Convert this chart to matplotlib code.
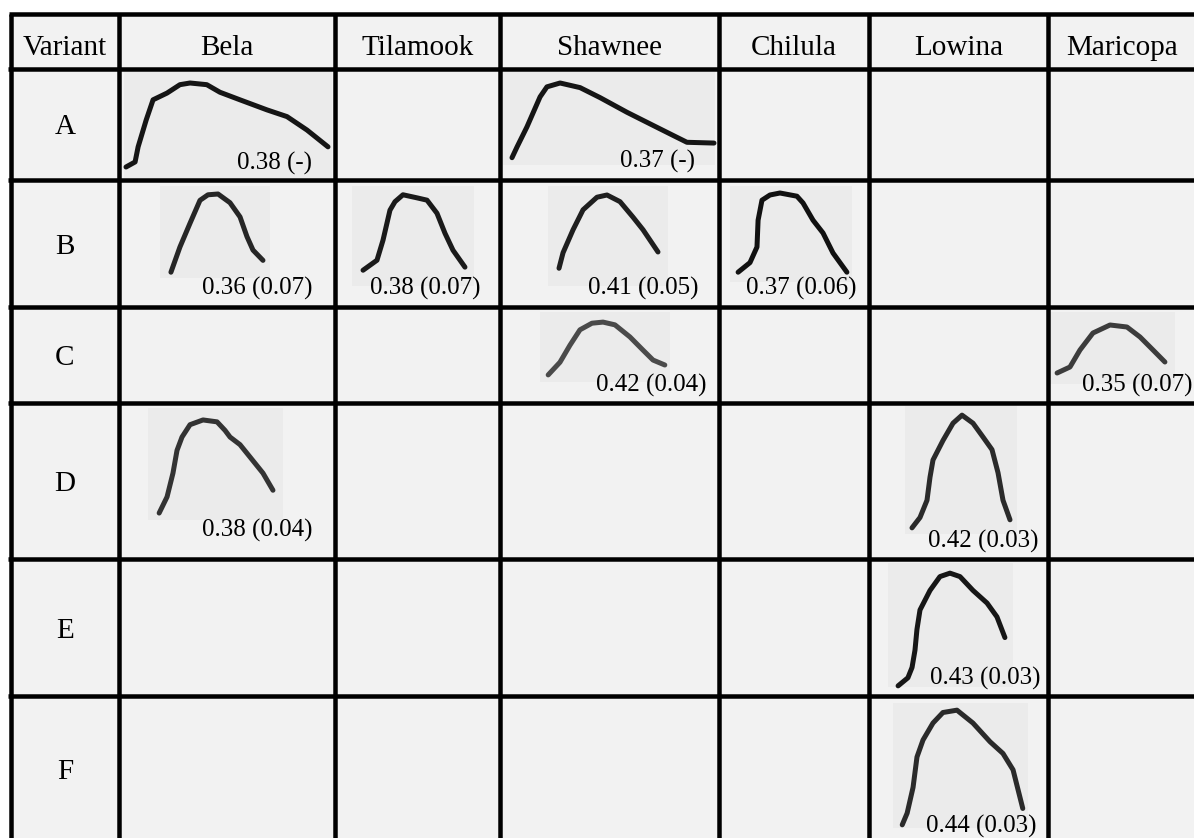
import matplotlib
matplotlib.use("Agg")
import matplotlib.pyplot as plt
from matplotlib.patches import Rectangle

plt.rcParams['font.family'] = ['Liberation Serif', 'DejaVu Serif']

# ---------------- data ----------------
variants = ['A', 'B', 'C', 'D', 'E', 'F']
cultivars = ['Bela', 'Tilamook', 'Shawnee', 'Chilula', 'Lowina', 'Maricopa']
corner_label = 'Variant'

# cells that hold a profile: (variant, cultivar)
cells = [('A', 'Bela'), ('A', 'Shawnee'),
         ('B', 'Bela'), ('B', 'Tilamook'), ('B', 'Shawnee'), ('B', 'Chilula'),
         ('C', 'Shawnee'), ('C', 'Maricopa'),
         ('D', 'Bela'), ('D', 'Lowina'),
         ('E', 'Lowina'),
         ('F', 'Lowina')]
means = [0.38, 0.37, 0.36, 0.38, 0.41, 0.37, 0.42, 0.35, 0.38, 0.42, 0.43, 0.44]
sds = [None, None, 0.07, 0.07, 0.05, 0.06, 0.04, 0.07, 0.04, 0.03, 0.03, 0.03]

# normalised profiles: position along the profile (u) and relative height (v)
prof_A_bela_u = [0.00, 0.045, 0.06, 0.10, 0.134, 0.203, 0.267, 0.317, 0.40, 0.465, 0.564, 0.698, 0.797, 0.896, 1.00]
prof_A_bela_v = [0.00, 0.06, 0.24, 0.56, 0.80, 0.88, 0.98, 1.00, 0.98, 0.89, 0.80, 0.68, 0.60, 0.44, 0.24]
prof_A_shawnee_u = [0.00, 0.025, 0.074, 0.139, 0.173, 0.238, 0.337, 0.436, 0.569, 0.698, 0.797, 0.866, 1.00]
prof_A_shawnee_v = [0.03, 0.17, 0.43, 0.82, 0.95, 1.00, 0.94, 0.81, 0.62, 0.45, 0.32, 0.23, 0.22]
prof_B_bela_u = [0.01, 0.106, 0.213, 0.319, 0.404, 0.511, 0.638, 0.745, 0.819, 0.883, 0.989]
prof_B_bela_v = [0.01, 0.33, 0.63, 0.92, 0.99, 1.00, 0.89, 0.71, 0.46, 0.29, 0.16]
prof_B_tilamook_u = [0.01, 0.144, 0.202, 0.269, 0.317, 0.394, 0.529, 0.625, 0.721, 0.798, 0.875, 0.99]
prof_B_tilamook_v = [0.01, 0.14, 0.40, 0.79, 0.90, 0.99, 0.95, 0.92, 0.75, 0.49, 0.27, 0.05]
prof_B_shawnee_u = [0.01, 0.05, 0.149, 0.248, 0.386, 0.485, 0.614, 0.743, 0.842, 0.99]
prof_B_shawnee_v = [0.01, 0.22, 0.53, 0.80, 0.97, 1.00, 0.91, 0.70, 0.53, 0.23]
prof_B_chilula_u = [0.01, 0.117, 0.18, 0.19, 0.225, 0.297, 0.387, 0.54, 0.595, 0.685, 0.775, 0.865, 0.99]
prof_B_chilula_v = [0.01, 0.13, 0.325, 0.66, 0.91, 0.975, 1.00, 0.96, 0.875, 0.66, 0.50, 0.25, 0.01]
prof_C_shawnee_u = [0.01, 0.109, 0.193, 0.277, 0.378, 0.471, 0.571, 0.697, 0.807, 0.891, 0.99]
prof_C_shawnee_v = [0.02, 0.25, 0.56, 0.84, 0.96, 0.98, 0.93, 0.71, 0.47, 0.29, 0.20]
prof_C_maricopa_u = [0.01, 0.127, 0.218, 0.336, 0.491, 0.645, 0.764, 0.882, 0.99]
prof_C_maricopa_v = [0.02, 0.14, 0.48, 0.82, 0.98, 0.94, 0.74, 0.48, 0.24]
prof_D_bela_u = [0.01, 0.078, 0.129, 0.164, 0.207, 0.276, 0.388, 0.509, 0.578, 0.621, 0.707, 0.793, 0.905, 0.991]
prof_D_bela_v = [0.01, 0.18, 0.43, 0.67, 0.81, 0.94, 0.99, 0.97, 0.88, 0.81, 0.73, 0.60, 0.43, 0.25]
prof_D_lowina_u = [0.01, 0.09, 0.16, 0.19, 0.22, 0.32, 0.42, 0.51, 0.62, 0.72, 0.81, 0.87, 0.92, 0.99]
prof_D_lowina_v = [0.01, 0.10, 0.25, 0.45, 0.60, 0.77, 0.92, 0.99, 0.92, 0.80, 0.69, 0.49, 0.25, 0.08]
prof_E_lowina_u = [0.01, 0.10, 0.138, 0.165, 0.183, 0.211, 0.303, 0.394, 0.486, 0.578, 0.697, 0.826, 0.917, 0.99]
prof_E_lowina_v = [0.01, 0.08, 0.17, 0.32, 0.50, 0.67, 0.84, 0.96, 0.99, 0.96, 0.84, 0.73, 0.61, 0.43]
prof_F_lowina_u = [0.01, 0.05, 0.098, 0.13, 0.179, 0.26, 0.341, 0.455, 0.585, 0.724, 0.829, 0.911, 0.99]
prof_F_lowina_v = [0.01, 0.11, 0.33, 0.59, 0.735, 0.88, 0.97, 0.99, 0.88, 0.72, 0.62, 0.48, 0.15]

profiles = [(prof_A_bela_u, prof_A_bela_v), (prof_A_shawnee_u, prof_A_shawnee_v),
            (prof_B_bela_u, prof_B_bela_v), (prof_B_tilamook_u, prof_B_tilamook_v),
            (prof_B_shawnee_u, prof_B_shawnee_v), (prof_B_chilula_u, prof_B_chilula_v),
            (prof_C_shawnee_u, prof_C_shawnee_v), (prof_C_maricopa_u, prof_C_maricopa_v),
            (prof_D_bela_u, prof_D_bela_v), (prof_D_lowina_u, prof_D_lowina_v),
            (prof_E_lowina_u, prof_E_lowina_v), (prof_F_lowina_u, prof_F_lowina_v)]

# ---------------- layout (pixels) ----------------
W, H = 1194, 838
col_edges = [11, 119, 335, 500, 719, 869, 1048, 1197]
row_edges = [14, 69, 180, 307, 403, 559, 696, 842]
# profile boxes: left, top, width, height
boxes = [(126, 83, 202, 84), (512, 83, 202, 77),
         (170, 194, 94, 79), (362, 194, 104, 77), (558, 195, 101, 74), (737, 193, 111, 80),
         (547, 321, 119, 55), (1056, 324, 110, 50),
         (158, 419, 116, 95), (911, 414, 100, 115),
         (897, 572, 109, 115), (901, 709, 123, 117)]
# background panels behind profiles: left, top, width, height
panels = [(124, 72, 208, 106), (503, 72, 212, 93),
          (160, 186, 110, 92), (352, 186, 122, 100), (548, 186, 120, 100), (730, 186, 122, 96),
          (540, 312, 130, 70), (1050, 312, 125, 72),
          (148, 408, 135, 112), (905, 406, 112, 128),
          (888, 563, 125, 124), (893, 703, 135, 125)]
# right edge and baseline of each value label
label_pos = [(312, 170), (695, 168),
             (313, 295), (480, 295), (698, 295), (857, 295),
             (707, 392), (1192, 392),
             (313, 537), (1038, 548),
             (1040, 685), (1037, 833)]
line_colors = ['#151515', '#151515', '#262626', '#1a1a1a', '#1f1f1f', '#111111',
               '#4a4a4a', '#3c3c3c', '#333333', '#2a2a2a', '#161616', '#2a2a2a']

cell_bg = '#f2f2f2'
panel_bg = '#ebebeb'
grid_lw = 4.5 * 72 / 100

fig = plt.figure(figsize=(W / 100, H / 100), dpi=100)
fig.patch.set_facecolor('white')
ax = fig.add_axes([0, 0, 1, 1])
ax.set_xlim(0, W)
ax.set_ylim(H, 0)
ax.axis('off')

# table background
ax.add_patch(Rectangle((col_edges[0], row_edges[0]), W - col_edges[0], H - row_edges[0],
                       facecolor=cell_bg, edgecolor='none', zorder=0))
for (px, py, pw, ph) in panels:
    ax.add_patch(Rectangle((px, py), pw, ph, facecolor=panel_bg, edgecolor='none', zorder=1))

# grid lines
for x in col_edges[:-1]:
    ax.plot([x, x], [row_edges[0], H], color='black', lw=grid_lw, solid_capstyle='butt', zorder=5)
for y in row_edges[:-1]:
    ax.plot([col_edges[0] - 3 if y != row_edges[0] else col_edges[0] - 2, W], [y, y],
            color='black', lw=grid_lw, solid_capstyle='butt', zorder=5)

# header texts
header_baseline = 55
ax.text((col_edges[0] + col_edges[1]) / 2, header_baseline, corner_label,
        ha='center', va='baseline', fontsize=21, color='black', zorder=6)
for i, name in enumerate(cultivars):
    cx = (col_edges[i + 1] + col_edges[i + 2]) / 2
    ax.text(cx, header_baseline, name, ha='center', va='baseline', fontsize=21,
            color='black', zorder=6)

# row letters
for j, v in enumerate(variants):
    cy = (row_edges[j + 1] + row_edges[j + 2]) / 2
    ax.text((col_edges[0] + col_edges[1]) / 2, cy + 10, v, ha='center', va='baseline',
            fontsize=21, color='black', zorder=6)

# profiles and value labels
for k, (u, v) in enumerate(profiles):
    L, T, bw, bh = boxes[k]
    tax = fig.add_axes([L / W, 1 - (T + bh) / H, bw / W, bh / H])
    tax.set_xlim(0, 1)
    tax.set_ylim(0, 1)
    tax.axis('off')
    tax.patch.set_alpha(0)
    tax.plot(u, v, color=line_colors[k], lw=3.6, solid_joinstyle='round',
             solid_capstyle='round', clip_on=False)

    m, s = means[k], sds[k]
    txt = f"{m:.2f} (-)" if s is None else f"{m:.2f} ({s:.2f})"
    rx, by = label_pos[k]
    ax.text(rx, by, txt, ha='right', va='baseline', fontsize=18, color='black', zorder=6)

fig.savefig('out.png', dpi=100, facecolor='white')
